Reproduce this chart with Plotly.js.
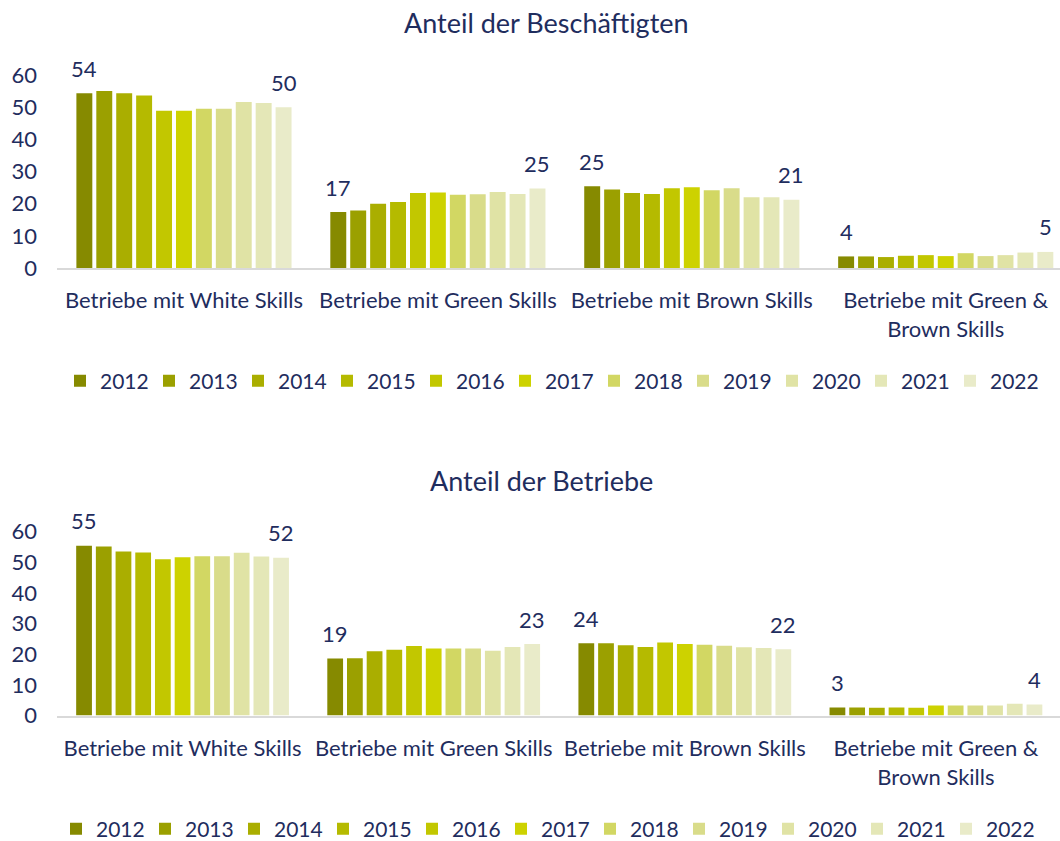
<!DOCTYPE html>
<html>
<head>
<meta charset="utf-8">
<script src="https://cdn.plot.ly/plotly-3.0.1.min.js"></script>
<style>html,body{margin:0;padding:0;background:#fff;}#chart{width:1060px;height:841px;}</style>
</head>
<body>
<div id="chart"></div>
<script>
// ---- data ----
const years = ['2012','2013','2014','2015','2016','2017','2018','2019','2020','2021','2022'];
const categories = ['Betriebe mit White Skills','Betriebe mit Green Skills','Betriebe mit Brown Skills','Betriebe mit Green &amp;<br>Brown Skills'];
const titleTop = 'Anteil der Beschäftigten';
const titleBottom = 'Anteil der Betriebe';

// Anteil der Beschäftigten (per category, 2012..2022)
const empWhite = [54.3, 55.0, 54.3, 53.6, 48.9, 48.9, 49.5, 49.5, 51.6, 51.3, 50.0];
const empGreen = [17.4, 17.9, 20.0, 20.5, 23.3, 23.5, 22.8, 22.9, 23.6, 23.0, 24.7];
const empBrown = [25.4, 24.4, 23.3, 23.0, 24.8, 25.1, 24.2, 24.8, 22.0, 22.0, 21.2];
const empGreenBrown = [3.6, 3.6, 3.4, 3.8, 4.0, 3.7, 4.6, 3.7, 4.0, 4.8, 5.0];

// Anteil der Betriebe (per category, 2012..2022)
const firmWhite = [55.4, 55.2, 53.5, 53.2, 51.0, 51.7, 52.0, 52.0, 53.1, 51.9, 51.5];
const firmGreen = [18.6, 18.7, 21.0, 21.5, 22.7, 21.9, 21.9, 21.9, 21.1, 22.4, 23.3];
const firmBrown = [23.6, 23.6, 22.9, 22.4, 23.8, 23.3, 23.1, 22.8, 22.3, 22.0, 21.6];
const firmGreenBrown = [2.6, 2.6, 2.5, 2.6, 2.5, 3.3, 3.3, 3.3, 3.3, 3.8, 3.6];

const yTicks = [0, 10, 20, 30, 40, 50, 60];

// ---- style ----
const colors = ['#868A00','#9BA000','#AAAE00','#B5BA00','#C2C700','#CDD200','#D2D763','#D9DC8A','#E0E3A5','#E4E7B7','#E9EBC9'];
const FONT = 'Lato, "Noto Sans", sans-serif';
const NAVY = '#1F2D5E';
const BARGAP = 0.137;
const N = years.length;

const empData = [empWhite, empGreen, empBrown, empGreenBrown];
const firmData = [firmWhite, firmGreen, firmBrown, firmGreenBrown];

const traces = [];
years.forEach((yr, j) => {
  traces.push({type:'bar', name: yr, x: categories, y: empData.map(a => a[j]),
    marker:{color: colors[j]}, xaxis:'x', yaxis:'y', legend:'legend', hoverinfo:'skip'});
});
years.forEach((yr, j) => {
  traces.push({type:'bar', name: yr, x: categories, y: firmData.map(a => a[j]),
    marker:{color: colors[j]}, xaxis:'x2', yaxis:'y2', legend:'legend2', hoverinfo:'skip'});
});

const off = (1 - BARGAP) / 2 * (1 - 1 / N);
const annotations = [];
function addLabels(data, xref, yref) {
  data.forEach((arr, i) => {
    [[0, -off], [N - 1, off]].forEach(([j, o]) => {
      annotations.push({xref: xref, yref: yref, x: i + o, y: arr[j], text: String(Math.round(arr[j])),
        showarrow:false, yanchor:'middle', yshift: 25, font:{family:FONT, size:22, color:NAVY}});
    });
  });
}
addLabels(empData, 'x', 'y');
addLabels(firmData, 'x2', 'y2');
annotations.push({xref:'paper', yref:'paper', x:546/1060, y:1-22/841, text: titleTop, showarrow:false,
  xanchor:'center', yanchor:'middle', font:{family:FONT, size:27, color:NAVY}});
annotations.push({xref:'paper', yref:'paper', x:541/1060, y:1-480/841, text: titleBottom, showarrow:false,
  xanchor:'center', yanchor:'middle', font:{family:FONT, size:27, color:NAVY}});

const tickFont = {family:FONT, size:22, color:NAVY};
const xBase = {type:'category', showline:true, linecolor:'#D9D9D9', linewidth:2, ticks:'', showgrid:false,
  zeroline:false, tickfont:tickFont, ticklabelstandoff:12, fixedrange:true};
const yBase = {range:[0,60], tickvals:yTicks, showline:false, showgrid:false, zeroline:false,
  ticks:'', tickfont:tickFont, ticklabelstandoff:19, fixedrange:true};

const legendBase = {orientation:'h', xanchor:'left', yanchor:'middle', font:{family:FONT, size:21, color:NAVY},
  entrywidth: 44, entrywidthmode:'pixels', traceorder:'normal', bgcolor:'rgba(0,0,0,0)', itemclick:false, itemdoubleclick:false};

const layout = {
  width:1060, height:841, margin:{l:0, r:0, t:0, b:0, autoexpand:false}, paper_bgcolor:'#fff', plot_bgcolor:'#fff',
  barmode:'group', bargap: BARGAP, bargroupgap: 0.2, showlegend:true,
  xaxis: Object.assign({}, xBase, {domain:[57/1060, 1], range:[-0.5, 3.45], anchor:'y'}),
  yaxis: Object.assign({}, yBase, {domain:[(841-268)/841, (841-75)/841], anchor:'x'}),
  xaxis2: Object.assign({}, xBase, {domain:[57/1060, 1], range:[-0.5, 3.494], anchor:'y2'}),
  yaxis2: Object.assign({}, yBase, {domain:[(841-715.5)/841, (841-531.7)/841], anchor:'x2'}),
  legend: Object.assign({}, legendBase, {x: 60/1060, y: (841-381)/841}),
  legend2: Object.assign({}, legendBase, {x: 56/1060, y: (841-829)/841}),
  annotations: annotations
};

Plotly.newPlot('chart', traces, layout, {staticPlot:true, displayModeBar:false});
</script>
</body>
</html>
